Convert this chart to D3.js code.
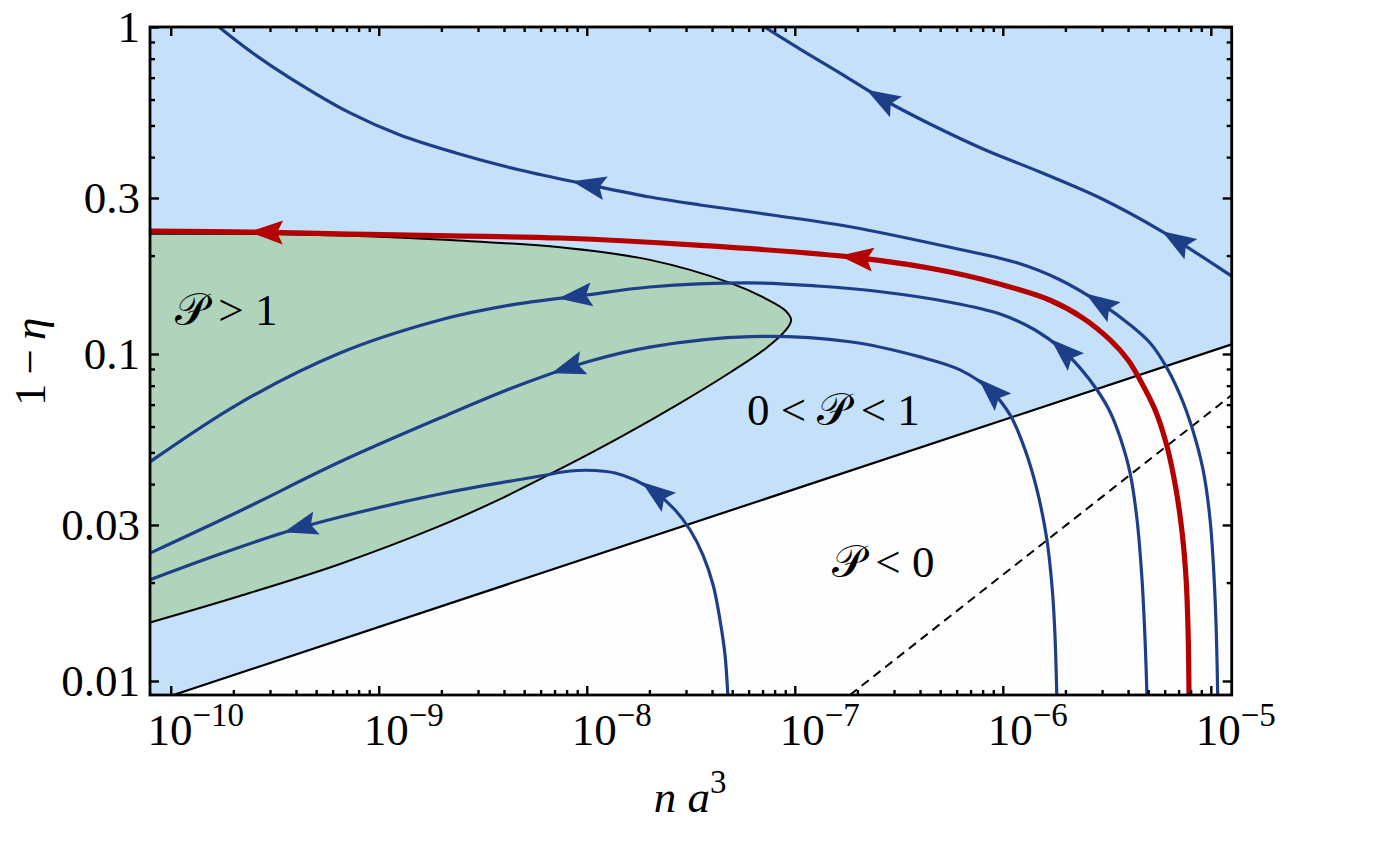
<!DOCTYPE html>
<html>
<head>
<meta charset="utf-8">
<script src="https://cdn.jsdelivr.net/npm/d3@7/dist/d3.min.js"></script>
<style>
  body { margin: 0; background: #fff; }
  svg text { font-family: "Liberation Serif", "Times New Roman", serif; fill: #000; }
  .script { font-family: "DejaVu Serif", "DejaVu Sans", serif; font-style: normal; }
</style>
</head>
<body>
<svg id="chart" width="1382" height="855"></svg>
<script>
// points are [n a^3, 1 - eta], listed left to right; the flow runs right to left
const redCurve = [
  [7.95e-11, 0.2377], [2.49e-10, 0.236], [7.28e-10, 0.2326], [2.2e-9, 0.2296], [7.45e-9, 0.2263],
  [3.51e-8, 0.215], [1.99e-7, 0.197], [5.57e-7, 0.1781], [1.17e-6, 0.158], [1.69e-6, 0.146],
  [2.43e-6, 0.1288], [3.28e-6, 0.1104], [4.0e-6, 0.0959], [4.57e-6, 0.0833], [5.4e-6, 0.0674],
  [6.17e-6, 0.0519], [6.81e-6, 0.0384], [7.28e-6, 0.0284], [7.61e-6, 0.0204], [7.78e-6, 0.014],
  [7.86e-6, 0.00875]
];
const redArrows = [[2.9e-10, 0.236], [1.99e-7, 0.197]];

const topCurve = [
  [6.44e-8, 1.043], [1.06e-7, 0.856], [1.65e-7, 0.723], [2.69e-7, 0.598], [4.47e-7, 0.505],
  [8.04e-7, 0.4236], [1.51e-6, 0.3602], [2.94e-6, 0.3], [5.9e-6, 0.236], [1.26e-5, 0.173],
  [1.46e-5, 0.1626]
];
const topArrows = [[2.63e-7, 0.6], [7.0e-6, 0.225]];

const upperCurve = [
  [1.55e-10, 1.05], [2.4e-10, 0.845], [3.75e-10, 0.698], [7.28e-10, 0.546], [1.264e-9, 0.4675],
  [2.35e-9, 0.412], [4.77e-9, 0.3653], [1.03e-8, 0.329], [2.01e-8, 0.302], [3.51e-8, 0.2856],
  [7.78e-8, 0.2661], [1.84e-7, 0.245], [5.57e-7, 0.212], [1.17e-6, 0.19], [1.89e-6, 0.1684],
  [2.94e-6, 0.143], [4.1e-6, 0.1227], [5.11e-6, 0.108], [6.03e-6, 0.0926], [7.12e-6, 0.0749],
  [8.13e-6, 0.0594], [9.18e-6, 0.0442], [9.92e-6, 0.0311], [1.049e-5, 0.0177], [1.08e-5, 0.0089]
];
const upperArrows = [[1.03e-8, 0.329], [2.94e-6, 0.143]];

const middleCurve = [
  [7.95e-11, 0.0468], [2.15e-10, 0.0708], [6.52e-10, 0.1007], [1.97e-9, 0.127], [4.28e-9, 0.141],
  [9.6e-9, 0.151], [2.01e-8, 0.1603], [6.1e-8, 0.165], [1.28e-7, 0.1614], [2.65e-7, 0.1547],
  [5.57e-7, 0.144], [9.71e-7, 0.1325], [1.43e-6, 0.1184], [1.89e-6, 0.1043], [2.35e-6, 0.0907],
  [2.84e-6, 0.0776], [3.28e-6, 0.0665], [3.66e-6, 0.0557], [4.09e-6, 0.0433], [4.42e-6, 0.0311],
  [4.67e-6, 0.0204], [4.83e-6, 0.01335], [4.94e-6, 0.00875]
];
const middleArrows = [[8.9e-9, 0.15], [1.95e-6, 0.1007]];

const lowerCurve = [
  [7.95e-11, 0.0246], [2.15e-10, 0.0331], [6.52e-10, 0.0468], [1.97e-9, 0.0637], [4.77e-9, 0.0804],
  [1.04e-8, 0.0952], [2.01e-8, 0.105], [6.1e-8, 0.113], [1.84e-7, 0.109], [4.0e-7, 0.098],
  [6.23e-7, 0.0894], [8.69e-7, 0.0776], [1.084e-6, 0.0651], [1.28e-6, 0.0509], [1.46e-6, 0.0384],
  [1.63e-6, 0.027], [1.73e-6, 0.019], [1.78e-6, 0.014], [1.82e-6, 0.00875]
];
const lowerArrows = [[8.15e-9, 0.0912], [8.69e-7, 0.0765]];

const bottomCurve = [
  [7.95e-11, 0.0204], [1.726e-10, 0.02445], [3.47e-10, 0.0284], [6.52e-10, 0.03173], [1.97e-9, 0.0373],
  [5.97e-9, 0.04234], [8.32e-9, 0.04387], [1.096e-8, 0.04402], [1.368e-8, 0.04326], [1.706e-8, 0.04117],
  [2.13e-8, 0.03784], [2.66e-8, 0.03334], [3.14e-8, 0.02895], [3.62e-8, 0.02428], [4.05e-8, 0.01966],
  [4.37e-8, 0.01537], [4.62e-8, 0.01201], [4.78e-8, 0.00875]
];
const bottomArrows = [[4.19e-10, 0.0302], [2.18e-8, 0.0379]];

// boundary of the P > 1 region: upper branch left to tip, then lower branch back
const greenUpper = [
  [7.95e-11, 0.233], [2.49e-10, 0.233], [7.28e-10, 0.23], [2.2e-9, 0.223], [7.45e-9, 0.212],
  [2.01e-8, 0.194], [4.89e-8, 0.165], [7.2e-8, 0.148], [8.98e-8, 0.136], [9.6e-8, 0.127]
];
const greenLower = [
  [8.98e-8, 0.1176], [7.2e-8, 0.1036], [4.89e-8, 0.0878], [2.81e-8, 0.0708], [1.45e-8, 0.0557],
  [7.45e-9, 0.0445], [3.83e-9, 0.036], [1.97e-9, 0.0298], [6.52e-10, 0.0228], [2.15e-10, 0.0182],
  [7.95e-11, 0.0151]
];

// P = 0 boundary and the dashed line
const zeroLine = [[1.03e-10, 0.00906], [1.26e-5, 0.107]];
const dashLine = [[1.84e-7, 0.00906], [1.26e-5, 0.0749]];

const xDomain = [7.95e-11, 1.26e-5];
const yDomain = [0.00906, 1];
const xMajor = [-10, -9, -8, -7, -6, -5];
const yMajor = [0.01, 0.03, 0.1, 0.3, 1];
const yMajorLabels = ['0.01', '0.03', '0.1', '0.3', '1'];

const fLeft = 150, fRight = 1231.7, fTop = 27, fBottom = 695;
const blueFill = '#c5e0f9', greenFill = '#b0d3bb', blueLine = '#1c3f88', redLine = '#b50000';

const svg = d3.select('#chart');
const x = d3.scaleLog().domain(xDomain).range([fLeft, fRight]);
const y = d3.scaleLog().domain(yDomain).range([fBottom, fTop]);

svg.append('clipPath').attr('id', 'frame')
  .append('rect').attr('x', fLeft).attr('y', fTop).attr('width', fRight - fLeft).attr('height', fBottom - fTop);

const plot = svg.append('g').attr('clip-path', 'url(#frame)');

// light blue everywhere, white below P = 0
plot.append('rect').attr('x', fLeft).attr('y', fTop).attr('width', fRight - fLeft).attr('height', fBottom - fTop)
  .attr('fill', blueFill);
plot.append('path')
  .attr('d', d3.line()([[x(zeroLine[0][0]), y(zeroLine[0][1])], [x(zeroLine[1][0]), y(zeroLine[1][1])], [fRight, fBottom]]) + 'Z')
  .attr('fill', '#fdfdfd');

const smooth = d3.line().x(d => x(d[0])).y(d => y(d[1])).curve(d3.curveCatmullRom.alpha(0.5));
const straight = d3.line().x(d => x(d[0])).y(d => y(d[1]));

const greenPts = greenUpper.concat(greenLower);
plot.append('path').attr('d', smooth(greenPts) + 'Z').attr('fill', greenFill);
plot.append('path').attr('d', smooth(greenPts)).attr('fill', 'none').attr('stroke', '#000').attr('stroke-width', 2);

plot.append('path').attr('d', straight(zeroLine)).attr('stroke', '#000').attr('stroke-width', 2.2).attr('fill', 'none');
plot.append('path').attr('d', straight(dashLine)).attr('stroke', '#000').attr('stroke-width', 2)
  .attr('stroke-dasharray', '9,6').attr('fill', 'none');

// flow lines
const flows = [
  { pts: topCurve, arrows: topArrows, color: blueLine, w: 3.2 },
  { pts: upperCurve, arrows: upperArrows, color: blueLine, w: 3.2 },
  { pts: middleCurve, arrows: middleArrows, color: blueLine, w: 3.2 },
  { pts: lowerCurve, arrows: lowerArrows, color: blueLine, w: 3.2 },
  { pts: bottomCurve, arrows: bottomArrows, color: blueLine, w: 3.2 },
  { pts: redCurve, arrows: redArrows, color: redLine, w: 5.2 }
];

flows.forEach(f => {
  const path = plot.append('path').attr('d', smooth(f.pts)).attr('fill', 'none')
    .attr('stroke', f.color).attr('stroke-width', f.w);
  f.arrows.forEach(a => placeArrow(path.node(), a, f.color));
});

function placeArrow(node, target, color) {
  const total = node.getTotalLength();
  const tx = x(target[0]), ty = y(target[1]);
  let best = 0, bestD = Infinity;
  for (let l = 0; l <= total; l += 1) {
    const p = node.getPointAtLength(l);
    const d = (p.x - tx) ** 2 + (p.y - ty) ** 2;
    if (d < bestD) { bestD = d; best = l; }
  }
  const ahead = node.getPointAtLength(Math.max(0, best - 3));
  const behind = node.getPointAtLength(Math.min(total, best + 3));
  const ang = Math.atan2(ahead.y - behind.y, ahead.x - behind.x) * 180 / Math.PI;
  const c = node.getPointAtLength(best);
  plot.append('path')
    .attr('d', 'M18,0 L-16,-12 L-10,0 L-16,12 Z')
    .attr('transform', `translate(${c.x},${c.y}) rotate(${ang})`)
    .attr('fill', color);
}

// ticks on all four sides, pointing inward
const xMinor = [];
xMajor.forEach(e => { for (let k = 2; k <= 9; k++) { const v = k * Math.pow(10, e); if (v < xDomain[1]) xMinor.push(v); } });
const xMajorVals = xMajor.map(e => Math.pow(10, e));
const yMinor = [];
[-2, -1].forEach(e => { for (let k = 1; k <= 9; k++) { const v = k * Math.pow(10, e); if (!yMajor.some(m => Math.abs(m - v) < 1e-9)) yMinor.push(v); } });

function tickAxis(axisFn, scale, vals, size, tx, ty) {
  const g = svg.append('g').attr('transform', `translate(${tx},${ty})`)
    .call(axisFn(scale).tickValues(vals).tickSize(size).tickFormat(''));
  g.select('.domain').remove();
  g.selectAll('line').attr('stroke', '#000').attr('stroke-width', 2.4);
}
tickAxis(d3.axisBottom, x, xMajorVals, -9, 0, fBottom);
tickAxis(d3.axisBottom, x, xMinor, -5, 0, fBottom);
tickAxis(d3.axisTop, x, xMajorVals, -9, 0, fTop);
tickAxis(d3.axisTop, x, xMinor, -5, 0, fTop);
tickAxis(d3.axisLeft, y, yMajor, -9, fLeft, 0);
tickAxis(d3.axisLeft, y, yMinor, -5, fLeft, 0);
tickAxis(d3.axisRight, y, yMajor, -9, fRight, 0);
tickAxis(d3.axisRight, y, yMinor, -5, fRight, 0);

svg.append('rect').attr('x', fLeft).attr('y', fTop).attr('width', fRight - fLeft).attr('height', fBottom - fTop)
  .attr('fill', 'none').attr('stroke', '#000').attr('stroke-width', 2.8);

// tick labels
yMajor.forEach((v, i) => {
  svg.append('text').attr('x', 140).attr('y', y(v)).attr('dy', '0.34em')
    .attr('text-anchor', 'end').attr('font-size', 45).text(yMajorLabels[i]);
});
xMajor.forEach(e => {
  const t = svg.append('text').attr('x', x(Math.pow(10, e)) + 25).attr('y', 745)
    .attr('text-anchor', 'middle').attr('font-size', 45);
  t.append('tspan').text('10');
  t.append('tspan').attr('dy', -19).attr('font-size', 33).text('\u2212' + Math.abs(e));
});

// axis titles
const xt = svg.append('text').attr('x', 690).attr('y', 812).attr('text-anchor', 'middle').attr('font-size', 45);
xt.append('tspan').attr('font-style', 'italic').text('n a');
xt.append('tspan').attr('dy', -19).attr('font-size', 33).text('3');

const yt = svg.append('text').attr('transform', 'translate(45,406) rotate(-90)')
  .attr('text-anchor', 'start').attr('font-size', 45);
yt.append('tspan').text('1\u2009\u2212\u2009');
yt.append('tspan').attr('font-style', 'italic').text('\u03B7');

// region labels
const P = '\uD835\uDCAB';
function regionLabel(px, py, parts) {
  const t = svg.append('text').attr('x', px).attr('y', py).attr('font-size', 45);
  parts.forEach(p => {
    const s = t.append('tspan').text(p);
    if (p === P) s.attr('class', 'script');
  });
}
regionLabel(175, 325, [P, ' > 1']);
regionLabel(747, 425, ['0 < ', P, ' < 1']);
regionLabel(832, 577, [P, ' < 0']);
</script>
</body>
